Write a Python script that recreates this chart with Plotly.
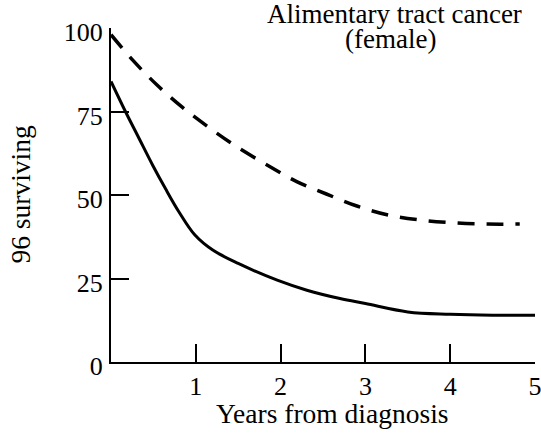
import plotly.graph_objects as go

# Data
solid_x = [0, 0.17, 0.33, 0.49, 0.64, 0.80, 0.99, 1.2, 1.5, 1.96, 2.31, 2.70, 3.0, 3.5, 4.0, 4.5, 5.0]
solid_y = [84, 75, 67, 59, 52, 45, 38, 33.5, 29.5, 24.5, 21.5, 19, 17.5, 15, 14.3, 14, 14]

dashed_x = [0, 0.27, 0.54, 0.84, 1.15, 1.48, 1.84, 2.19, 2.54, 2.90, 3.27, 3.65, 4.04, 4.43, 4.82]
dashed_y = [98, 90, 83, 76.3, 70.3, 64.5, 59, 54, 50.3, 46.7, 44, 42.5, 41.7, 41.3, 41.3]

x_ticks = [1, 2, 3, 4, 5]
y_ticks = [0, 25, 50, 75, 100]

title_lines = ["Alimentary tract cancer", "(female)"]
x_title = "Years from diagnosis"
y_title = "96 surviving"

FONT = "Liberation Serif"
L, R, T, B = 110.5, 6, 28, 76
W, H = 541, 438

fig = go.Figure()
fig.add_trace(go.Scatter(x=dashed_x, y=dashed_y, mode="lines",
                         line=dict(color="black", width=3.5, dash="17px,12px", shape="spline", smoothing=1.0),
                         cliponaxis=False, showlegend=False, hoverinfo="skip"))
fig.add_trace(go.Scatter(x=solid_x, y=solid_y, mode="lines",
                         line=dict(color="black", width=3, shape="spline", smoothing=1.0),
                         cliponaxis=False, showlegend=False, hoverinfo="skip"))

axis_common = dict(ticks="inside", ticklen=18, tickwidth=1.5, tickcolor="black",
                   showline=True, linecolor="black", linewidth=2,
                   showgrid=False, zeroline=False, automargin=False,
                   ticklabeloverflow="allow",
                   tickfont=dict(family=FONT, size=26))

fig.update_layout(
    width=W, height=H,
    margin=dict(l=L, r=R, t=T, b=B, autoexpand=False),
    paper_bgcolor="white", plot_bgcolor="white",
    font=dict(family=FONT, size=26, color="black"),
    xaxis=dict(range=[0, 5], tickvals=x_ticks, ticklabelstandoff=0, **axis_common),
    yaxis=dict(range=[0, 100], tickvals=y_ticks, ticklabelstandoff=1, ticklabelshift=4, **axis_common),
)

pw = W - L - R
ph = H - T - B
def ann(text, px, py, angle=0, size=27.5):
    return dict(text=text, x=(px - L) / pw, y=1 - (py - T) / ph, xref="paper", yref="paper",
                showarrow=False, textangle=angle, xanchor="center", yanchor="middle",
                font=dict(family=FONT, size=size))

fig.update_layout(annotations=[
    ann(title_lines[0], 394, 14, size=27),
    ann(title_lines[1], 390, 39, size=27),
    ann(x_title, 332, 413),
    ann(y_title, 19, 194, -90),
])

fig.write_html("out.html", config={"displayModeBar": False},
               post_script="document.body.style.margin='0';document.body.style.overflow='hidden';")
